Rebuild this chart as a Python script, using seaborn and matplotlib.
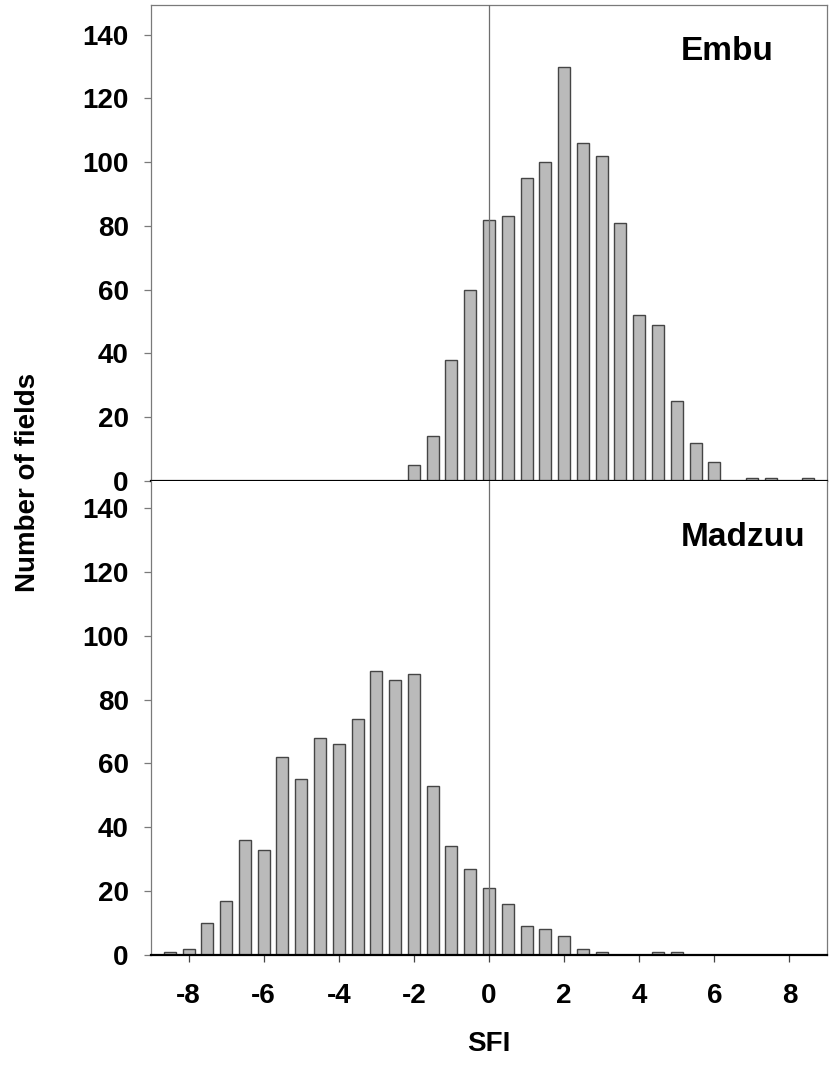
import matplotlib
matplotlib.use("Agg")
import matplotlib.pyplot as plt
import seaborn as sns
import pandas as pd

# ---- data ----
sfi_bins = [-8.5, -8.0, -7.5, -7.0, -6.5, -6.0, -5.5, -5.0, -4.5, -4.0, -3.5, -3.0,
            -2.5, -2.0, -1.5, -1.0, -0.5, 0.0, 0.5, 1.0, 1.5, 2.0, 2.5, 3.0,
            3.5, 4.0, 4.5, 5.0, 5.5, 6.0, 6.5, 7.0, 7.5, 8.0, 8.5]
embu_counts = [0, 0, 0, 0, 0, 0, 0, 0, 0, 0, 0, 0,
               0, 5, 14, 38, 60, 82, 83, 95, 100, 130, 106, 102,
               81, 52, 49, 25, 12, 6, 0, 1, 1, 0, 1]
madzuu_counts = [1, 2, 10, 17, 36, 33, 62, 55, 68, 66, 74, 89,
                 86, 88, 53, 34, 27, 21, 16, 9, 8, 6, 2, 1,
                 0, 0, 1, 1, 0, 0, 0, 0, 0, 0, 0]
site_names = ["Embu", "Madzuu"]
x_ticks = [-8, -6, -4, -2, 0, 2, 4, 6, 8]
y_ticks = [0, 20, 40, 60, 80, 100, 120, 140]

sns.set_style("white")
plt.rcParams['font.family'] = ['Liberation Sans', 'DejaVu Sans']
plt.rcParams['font.weight'] = 'bold'
plt.rcParams['axes.unicode_minus'] = False
plt.rcParams['text.color'] = 'black'
plt.rcParams['axes.labelcolor'] = 'black'
plt.rcParams['xtick.color'] = 'black'
plt.rcParams['ytick.color'] = 'black'

fig = plt.figure(figsize=(8.33, 10.72), dpi=100)
left, width = 151 / 833, (827 - 151) / 833
ax_top = fig.add_axes([left, (1072 - 481) / 1072, width, (481 - 5) / 1072])
ax_bot = fig.add_axes([left, (1072 - 955) / 1072, width, (955 - 481) / 1072])

bar_fill = "#bababa"
bar_edge = "#454545"
spine_gray = "#7a7a7a"

panels = [(ax_top, embu_counts, site_names[0], 149.3, 0.903),
          (ax_bot, madzuu_counts, site_names[1], 148.5, 0.880)]

for ax, counts, name, ytop, ty in panels:
    df = pd.DataFrame({"SFI": sfi_bins, "n": counts})
    sns.barplot(data=df, x="SFI", y="n", native_scale=True, orient="x",
                width=0.64, color=bar_fill, saturation=1, edgecolor=bar_edge,
                linewidth=1.0, errorbar=None, ax=ax)
    ax.axvline(0, color="#6e6e6e", lw=0.9, zorder=3)
    ax.set_xlim(-9, 9)
    ax.set_ylim(0, ytop)
    ax.set_yticks(y_ticks)
    ax.set_xticks(x_ticks)
    ax.set_xlabel("")
    ax.set_ylabel("")
    for s in ["left", "top", "right"]:
        ax.spines[s].set_visible(True)
        ax.spines[s].set_color(spine_gray)
        ax.spines[s].set_linewidth(0.9)
    ax.spines["bottom"].set_visible(True)
    ax.spines["bottom"].set_color("black")
    ax.spines["bottom"].set_linewidth(1.6)
    ax.spines["bottom"].set_zorder(4)
    ax.tick_params(axis="y", direction="out", length=5, width=0.9, color=spine_gray,
                   labelcolor="black", pad=11, labelsize=20, left=True)
    ax.tick_params(axis="x", direction="out", length=5, width=0.9, color="#444444",
                   labelcolor="black", pad=15, labelsize=20, bottom=True)
    for lab in ax.get_xticklabels() + ax.get_yticklabels():
        lab.set_fontweight("bold")
    ax.text(0.783, ty, name, transform=ax.transAxes, ha="left", va="center",
            fontsize=24, fontweight="bold", color="black")

ax_top.tick_params(axis="x", labelbottom=False)
ax_bot.spines["top"].set_visible(False)

fig.text(28 / 833, 1 - 482 / 1072, "Number of fields", rotation=90,
         ha="center", va="center", fontsize=20, fontweight="bold", color="black")
fig.text(489 / 833, 1 - 1044 / 1072, "SFI", ha="center", va="center",
         fontsize=20, fontweight="bold", color="black")

fig.savefig("out.png", dpi=100, facecolor="white")
